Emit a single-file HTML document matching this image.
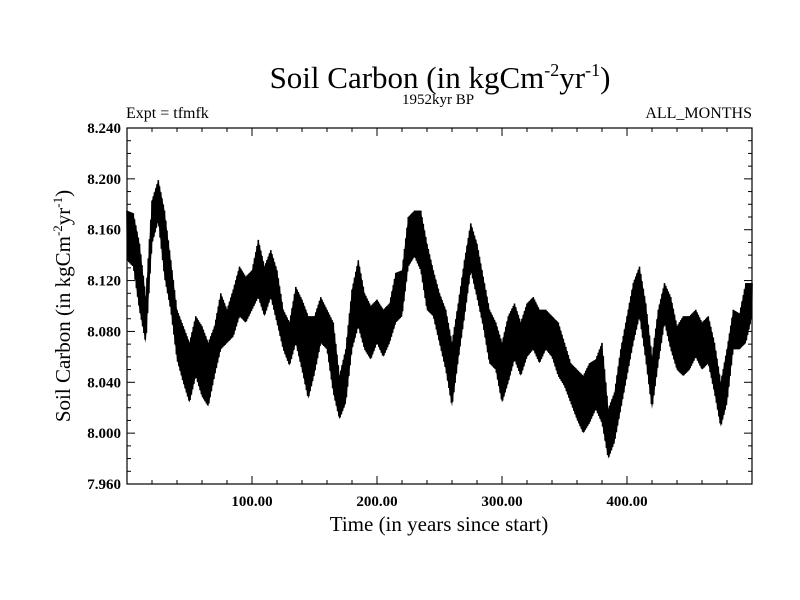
<!DOCTYPE html>
<html><head><meta charset="utf-8"><style>
body{margin:0;background:#fff;}
svg{display:block;font-family:"Liberation Serif",serif;}
</style></head><body>
<svg id="chart" width="800" height="600" viewBox="0 0 800 600" xmlns="http://www.w3.org/2000/svg">
<rect width="800" height="600" fill="#fff"/>
<text x="440" y="88" font-size="31" text-anchor="middle">Soil Carbon (in kgCm<tspan font-size="18" dy="-12">-2</tspan><tspan dy="12">yr</tspan><tspan font-size="18" dy="-12">-1</tspan><tspan dy="12">)</tspan></text>
<text x="126" y="118" font-size="16">Expt = tfmfk</text>
<text x="438" y="104" font-size="15" text-anchor="middle">1952kyr BP</text>
<text x="752" y="118" font-size="16" text-anchor="end">ALL_MONTHS</text>
<text x="439" y="531" font-size="21" text-anchor="middle">Time (in years since start)</text>
<text transform="translate(70,306) rotate(-90)" font-size="21" text-anchor="middle">Soil Carbon (in kgCm<tspan font-size="13" dy="-8">-2</tspan><tspan dy="8">yr</tspan><tspan font-size="13" dy="-8">-1</tspan><tspan dy="8">)</tspan></text>
<g id="marks"></g>
<g id="axes"></g>
</svg>
<script>
const years = [];
for (let i = 0; i <= 100; i++) years.push(i * 5);
const highs = [8.175,8.173,8.149,8.107,8.183,8.199,8.175,8.136,8.097,8.084,8.071,8.092,8.084,8.071,8.084,8.110,8.097,8.113,8.131,8.123,8.128,8.152,8.131,8.144,8.128,8.097,8.087,8.115,8.105,8.092,8.092,8.107,8.097,8.087,8.045,8.066,8.113,8.136,8.110,8.100,8.105,8.097,8.102,8.126,8.128,8.170,8.175,8.175,8.149,8.128,8.110,8.097,8.071,8.102,8.136,8.165,8.149,8.123,8.097,8.087,8.071,8.092,8.102,8.087,8.102,8.107,8.097,8.097,8.092,8.087,8.071,8.055,8.050,8.045,8.055,8.058,8.071,8.019,8.032,8.066,8.092,8.118,8.131,8.102,8.060,8.097,8.118,8.107,8.084,8.092,8.092,8.097,8.087,8.092,8.071,8.040,8.066,8.097,8.094,8.118,8.118];
const lows = [8.136,8.131,8.097,8.071,8.149,8.167,8.123,8.097,8.058,8.040,8.024,8.045,8.029,8.021,8.045,8.066,8.071,8.076,8.092,8.087,8.097,8.107,8.092,8.107,8.087,8.066,8.053,8.071,8.050,8.027,8.047,8.071,8.066,8.032,8.011,8.024,8.066,8.084,8.066,8.058,8.071,8.060,8.071,8.087,8.092,8.131,8.139,8.128,8.097,8.092,8.071,8.050,8.021,8.058,8.092,8.128,8.107,8.084,8.055,8.050,8.024,8.040,8.058,8.045,8.060,8.066,8.055,8.066,8.060,8.045,8.037,8.024,8.011,8.000,8.008,8.019,8.008,7.980,7.993,8.019,8.045,8.071,8.092,8.058,8.019,8.055,8.087,8.066,8.050,8.045,8.050,8.060,8.050,8.055,8.032,8.005,8.024,8.066,8.066,8.071,8.092];
const yTicks = ["7.960","8.000","8.040","8.080","8.120","8.160","8.200","8.240"];
const xTicks = ["100.00","200.00","300.00","400.00"];

const L=127,R=752,T=128,B=484;
const X0=0,X1=500,Y0=7.96,Y1=8.24;
const sx=v=>L+(v-X0)/(X1-X0)*(R-L);
const sy=v=>B-(v-Y0)/(Y1-Y0)*(B-T);
const NS="http://www.w3.org/2000/svg";
const marks=document.getElementById('marks'), axes=document.getElementById('axes');
function mk(tag,attrs,parent){const e=document.createElementNS(NS,tag);for(const k in attrs)e.setAttribute(k,attrs[k]);parent.appendChild(e);return e;}

let pts=[];
for(let i=0;i<years.length;i++)pts.push(sx(years[i]).toFixed(1)+','+sy(highs[i]).toFixed(1));
for(let i=years.length-1;i>=0;i--)pts.push(sx(years[i]).toFixed(1)+','+sy(lows[i]).toFixed(1));
const band=mk('polygon',{points:pts.join(' '),fill:'#000'},marks);


let d='';
for(let i=0;i<years.length-1;i++){
  for(let k=0;k<10;k++){
    const f=k/10, yr=years[i]+f*(years[i+1]-years[i]);
    const hi=highs[i]+f*(highs[i+1]-highs[i]), lo=lows[i]+f*(lows[i+1]-lows[i]);
    const v=(k%2===0)?hi:lo;
    d+=(d?'L':'M')+sx(yr).toFixed(1)+','+sy(v).toFixed(1);
  }
}
d+='L'+sx(years[years.length-1]).toFixed(1)+','+sy(highs[highs.length-1]).toFixed(1);
const line=mk('path',{d:d,fill:'none',stroke:'#000','stroke-width':1.6},marks);



const frame=mk('rect',{x:L,y:T,width:R-L,height:B-T,fill:'none',stroke:'#000','stroke-width':1.2},axes);


for(let v=0;v<=28;v++){
  const val=Y0+v*0.01, y=sy(val), len=(v%4===0)?8:4;
  mk('line',{x1:L,x2:L+len,y1:y,y2:y,stroke:'#000'},axes);
  mk('line',{x1:R,x2:R-len,y1:y,y2:y,stroke:'#000'},axes);
}
yTicks.forEach(t=>{
  const el=mk('text',{x:L-6,y:sy(parseFloat(t))+5,'font-size':15,'font-weight':'600','text-anchor':'end'},axes);
  el.textContent=t;
  
  
});
for(let v=0;v<=500;v+=20){
  const x=sx(v), len=(v%100===0)?8:4;
  mk('line',{x1:x,x2:x,y1:B,y2:B-len,stroke:'#000'},axes);
  mk('line',{x1:x,x2:x,y1:T,y2:T+len,stroke:'#000'},axes);
}
xTicks.forEach(t=>{
  const el=mk('text',{x:sx(parseFloat(t)),y:B+22,'font-size':15,'font-weight':'600','text-anchor':'middle'},axes);
  el.textContent=t;
  
  
});
</script>
</body></html>
